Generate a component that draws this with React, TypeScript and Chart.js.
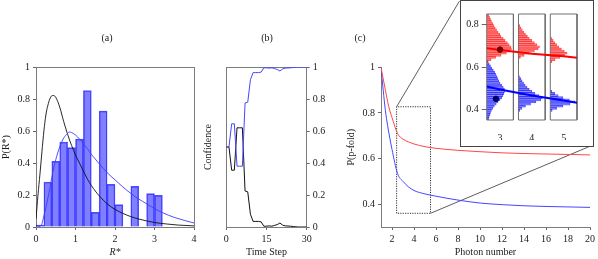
import React, { useEffect, useRef } from "react";
import { Chart, registerables } from "chart.js";

Chart.register(...registerables);

const FONT = "'Liberation Serif', 'DejaVu Serif', serif";
const TEXT = "#1a1a1a";
const FRAME = "#7c7c7c";
const TICKC = "#666666";

// ---------------- Panel (a) ----------------
const aBinCenters = [0.1, 0.3, 0.5, 0.7, 0.9, 1.1, 1.3, 1.5, 1.7, 1.9, 2.1, 2.3, 2.5, 2.7, 2.9, 3.1];
const aBinHeights = [0.012, 0.28, 0.41, 0.53, 0.496, 0.55, 0.852, 0.092, 0.725, 0.267, 0.14, 0, 0.254, 0, 0.209, 0.198];
const aBlackX = [0, 0.05, 0.1, 0.15, 0.2, 0.25, 0.3, 0.35, 0.4, 0.45, 0.5, 0.6, 0.7, 0.8, 0.9, 1.0, 1.1, 1.2, 1.3, 1.4, 1.5, 1.6, 1.8, 2.0, 2.2, 2.4, 2.6, 2.8, 3.0, 3.3, 3.6, 4.0];
const aBlackY = [0.05, 0.2, 0.33, 0.47, 0.6, 0.7, 0.76, 0.8, 0.82, 0.822, 0.81, 0.75, 0.66, 0.58, 0.51, 0.45, 0.4, 0.35, 0.3, 0.26, 0.225, 0.195, 0.145, 0.11, 0.085, 0.065, 0.05, 0.038, 0.028, 0.019, 0.012, 0.007];
const aBlueX = [0, 0.1, 0.15, 0.2, 0.25, 0.3, 0.35, 0.4, 0.5, 0.6, 0.7, 0.8, 0.85, 0.9, 1.0, 1.1, 1.2, 1.3, 1.4, 1.5, 1.6, 1.8, 2.0, 2.2, 2.4, 2.6, 2.8, 3.0, 3.2, 3.5, 4.0];
const aBlueY = [0, 0.003, 0.02, 0.07, 0.12, 0.18, 0.24, 0.31, 0.42, 0.5, 0.555, 0.585, 0.594, 0.59, 0.575, 0.55, 0.52, 0.49, 0.455, 0.425, 0.395, 0.34, 0.295, 0.25, 0.21, 0.175, 0.145, 0.115, 0.09, 0.06, 0.025];
const aXTicks = [0, 1, 2, 3, 4];
const aYTicks = [0, 0.2, 0.4, 0.6, 0.8, 1];

// ---------------- Panel (b) ----------------
const bSteps = [0, 1, 2, 3, 4, 5, 6, 7, 8, 9, 10, 11, 12, 13, 14, 15, 16, 17, 18, 19, 20, 21, 22, 23, 24, 25, 26, 27, 28, 29, 30];
const bBlue = [0.5, 0.5, 0.645, 0.645, 0.38, 0.38, 0.38, 0.775, 0.78, 0.92, 0.965, 0.965, 0.965, 0.968, 0.995, 0.995, 0.993, 0.995, 0.99, 0.985, 0.975, 0.988, 0.993, 0.994, 0.995, 0.997, 0.999, 1, 1, 1, 1];
const bBlack = [0.5, 0.5, 0.355, 0.355, 0.62, 0.62, 0.62, 0.225, 0.22, 0.08, 0.035, 0.035, 0.035, 0.032, 0.005, 0.005, 0.007, 0.005, 0.01, 0.015, 0.025, 0.012, 0.007, 0.006, 0.005, 0.003, 0.001, 0, 0, 0, 0];
const bXTicks = [0, 15, 30];
const bYTicks = [0, 0.2, 0.4, 0.6, 0.8, 1];

// ---------------- Panel (c) ----------------
const cPhotons = [1, 1.2, 1.4, 1.6, 1.8, 2, 2.5, 3, 3.5, 4, 5, 6, 7, 8, 10, 12, 14, 16, 18, 20];
const cRed = [1, 0.95, 0.9, 0.85, 0.81, 0.78, 0.71, 0.685, 0.673, 0.664, 0.652, 0.645, 0.64, 0.636, 0.63, 0.625, 0.622, 0.62, 0.618, 0.616];
const cBlue = [1, 0.9, 0.81, 0.745, 0.69, 0.64, 0.535, 0.5, 0.476, 0.46, 0.445, 0.435, 0.426, 0.418, 0.405, 0.398, 0.393, 0.39, 0.388, 0.386];
const cXTicks = [2, 4, 6, 8, 10, 12, 14, 16, 18, 20];
const cYTicks = [0.4, 0.6, 0.8, 1];
const cZoomBoxX = [2.42, 5.5];
const cZoomBoxY = [0.36, 0.827];
const cConnTopX = [2.42, 8.13];
const cConnTopY = [0.827, 1.29];
const cConnBottomX = [5.5, 20];
const cConnBottomY = [0.36, 0.654];

// ---------------- Inset ----------------
const insetPhotons = [3, 4, 5];
const insetHalfWidth = 0.42;
const insetYRange = [0.35, 0.85];
const insetYTicks = [0.4, 0.6, 0.8];
const red3Bins = [0.845, 0.835, 0.825, 0.815, 0.805, 0.795, 0.785, 0.775, 0.765, 0.755, 0.745, 0.735, 0.725, 0.715, 0.705, 0.695, 0.685, 0.675, 0.665, 0.655, 0.645, 0.635, 0.625];
const red3Len = [0.06, 0.09, 0.12, 0.15, 0.19, 0.23, 0.27, 0.31, 0.36, 0.41, 0.44, 0.52, 0.58, 0.65, 0.71, 0.76, 0.78, 0.74, 0.62, 0.45, 0.28, 0.14, 0.05];
const blue3Bins = [0.625, 0.615, 0.605, 0.595, 0.585, 0.575, 0.565, 0.555, 0.545, 0.535, 0.525, 0.515, 0.505, 0.495, 0.485, 0.475, 0.465, 0.455, 0.445, 0.435, 0.425, 0.415, 0.405, 0.395, 0.385, 0.375, 0.365, 0.355];
const blue3Len = [0.04, 0.08, 0.12, 0.16, 0.21, 0.25, 0.29, 0.32, 0.35, 0.38, 0.42, 0.47, 0.52, 0.56, 0.57, 0.54, 0.51, 0.47, 0.42, 0.36, 0.3, 0.24, 0.19, 0.15, 0.12, 0.1, 0.08, 0.06];
const red4Bins = [0.795, 0.785, 0.775, 0.765, 0.755, 0.745, 0.735, 0.725, 0.715, 0.705, 0.695, 0.685, 0.675, 0.665, 0.655, 0.645];
const red4Len = [0.04, 0.08, 0.12, 0.17, 0.22, 0.28, 0.34, 0.42, 0.5, 0.58, 0.66, 0.62, 0.5, 0.34, 0.18, 0.06];
const blue4Bins = [0.555, 0.545, 0.535, 0.525, 0.515, 0.505, 0.495, 0.485, 0.475, 0.465, 0.455, 0.445, 0.435, 0.425, 0.415, 0.405, 0.395];
const blue4Len = [0.03, 0.07, 0.11, 0.16, 0.21, 0.27, 0.34, 0.42, 0.52, 0.64, 0.75, 0.7, 0.55, 0.38, 0.22, 0.11, 0.04];
const red5Bins = [0.735, 0.725, 0.715, 0.705, 0.695, 0.685, 0.675, 0.665, 0.655, 0.645, 0.635, 0.625];
const red5Len = [0.04, 0.09, 0.14, 0.2, 0.27, 0.35, 0.44, 0.53, 0.45, 0.3, 0.15, 0.05];
const blue5Bins = [0.485, 0.475, 0.465, 0.455, 0.445, 0.435, 0.425, 0.415, 0.405, 0.395];
const blue5Len = [0.05, 0.14, 0.25, 0.4, 0.6, 0.78, 0.62, 0.4, 0.2, 0.06];
const insetFitX = [2.58, 3, 4, 5, 5.42];
const insetRedFit = [0.689, 0.68, 0.663, 0.651, 0.644];
const insetBlueFit = [0.508, 0.494, 0.466, 0.442, 0.431];
const insetRedDotX = [3.0];
const insetRedDotY = [0.682];
const insetBlueDotX = [2.87];
const insetBlueDotY = [0.45];

// ---------------- helpers ----------------
const pts = (xs: number[], ys: number[]) => xs.map((x, i) => ({ x, y: ys[i] }));
const setTicks = (vals: number[]) => (s: any) => {
  s.ticks = vals.map((v) => ({ value: v }));
};
const fixW = (w: number) => (s: any) => {
  s.width = w;
};
const fixH = (h: number) => (s: any) => {
  s.height = h;
};
const font = (size = 10, style = "normal") => ({ family: FONT, size, style });
const fmt = (v: any) => String(Math.round(Number(v) * 100) / 100);

function axis(o: any) {
  const vertical = o.position === "left" || o.position === "right";
  const showTicks = o.showTicks !== false;
  return {
    type: "linear",
    min: o.min,
    max: o.max,
    position: o.position,
    offset: false,
    afterBuildTicks: o.ticks ? setTicks(o.ticks) : undefined,
    afterFit: o.size == null ? undefined : vertical ? fixW(o.size) : fixH(o.size),
    grid: {
      display: showTicks,
      offset: false,
      drawOnChartArea: false,
      drawTicks: showTicks,
      tickLength: o.tickLength ?? 3,
      color: TICKC,
      lineWidth: 1,
    },
    border: { display: o.border !== false, color: FRAME, width: 1 },
    ticks: {
      display: o.labels !== false,
      font: font(10),
      color: TEXT,
      padding: o.pad ?? 3,
      autoSkip: false,
      maxRotation: 0,
      callback: fmt,
    },
    title: o.title
      ? { display: true, text: o.title, font: font(10, o.titleStyle || "normal"), color: TEXT, padding: o.titlePad ?? 0 }
      : { display: false },
  };
}

function frame(position: string) {
  const vertical = position === "left" || position === "right";
  return {
    type: "linear",
    position,
    display: true,
    ticks: { display: false },
    grid: { display: false, drawTicks: false },
    border: { display: true, color: FRAME, width: 1 },
    afterFit: vertical ? fixW(0) : fixH(0),
  };
}

function common(padding: any, scales: any) {
  return {
    responsive: false,
    animation: false,
    devicePixelRatio: 1,
    events: [],
    layout: { autoPadding: false, padding },
    plugins: { legend: { display: false }, tooltip: { enabled: false }, title: { display: false } },
    scales,
  };
}

const lineDs = (data: any[], color: string, width: number, order: number, extra: any = {}) => ({
  type: "line",
  data,
  borderColor: color,
  backgroundColor: color,
  borderWidth: width,
  pointRadius: 0,
  fill: false,
  order,
  ...extra,
});

// ---------------- chart configs ----------------
const makeA = () => ({
  type: "bar",
  data: {
    datasets: [
      lineDs(pts(aBlueX, aBlueY), "rgb(60,60,255)", 0.9, 0, { cubicInterpolationMode: "monotone" }),
      lineDs(pts(aBlackX, aBlackY), "#111111", 0.9, 1, { cubicInterpolationMode: "monotone" }),
      {
        type: "bar",
        data: pts(aBinCenters, aBinHeights),
        backgroundColor: "rgba(0,0,255,0.5)",
        borderColor: "rgba(0,0,255,0.65)",
        borderWidth: 0.8,
        barPercentage: 1,
        categoryPercentage: 1,
        order: 2,
      },
    ],
  },
  options: common(
    { left: 0, top: 67, right: 404, bottom: 0 },
    {
      x: axis({ min: 0, max: 4, position: "bottom", ticks: aXTicks, size: 32, title: "R*", titleStyle: "italic", titlePad: { top: 0, bottom: 1 } }),
      y: axis({ min: 0, max: 1, position: "left", ticks: aYTicks, size: 36, title: "P(R*)" }),
      x2: frame("top"),
      y2: frame("right"),
    }
  ),
});

const makeB = () => ({
  type: "line",
  data: {
    datasets: [
      lineDs(pts(bSteps, bBlue), "rgb(70,70,255)", 1, 0),
      lineDs(pts(bSteps, bBlack), "#111111", 1, 1),
    ],
  },
  options: common(
    { left: 202, top: 67, right: 261.3, bottom: 0 },
    {
      x: axis({ min: 0, max: 30, position: "bottom", ticks: bXTicks, size: 32, title: "Time Step", titlePad: { top: 0, bottom: 1 } }),
      y: axis({ min: 0, max: 1, position: "left", showTicks: false, labels: false, size: 24.3, title: "Confidence" }),
      yR: axis({ min: 0, max: 1, position: "right", ticks: bYTicks, size: 30 }),
      x2: frame("top"),
    }
  ),
});

const makeC = () => ({
  type: "line",
  data: {
    datasets: [
      lineDs(pts(cPhotons, cRed), "rgb(255,70,70)", 1, 0, { cubicInterpolationMode: "monotone" }),
      lineDs(pts(cPhotons, cBlue), "rgb(70,70,255)", 1, 1, { cubicInterpolationMode: "monotone" }),
      lineDs(
        [
          { x: cZoomBoxX[0], y: cZoomBoxY[0] },
          { x: cZoomBoxX[0], y: cZoomBoxY[1] },
          { x: cZoomBoxX[1], y: cZoomBoxY[1] },
          { x: cZoomBoxX[1], y: cZoomBoxY[0] },
          { x: cZoomBoxX[0], y: cZoomBoxY[0] },
        ],
        "#333333",
        1,
        2,
        { borderDash: [1.2, 1.2] }
      ),
      lineDs(pts(cConnTopX, cConnTopY), "#333333", 0.8, 3, { clip: false }),
      lineDs(pts(cConnBottomX, cConnBottomY), "#333333", 0.8, 3, { clip: false }),
    ],
  },
  options: common(
    { left: 345, top: 67.3, right: 4.5, bottom: 0 },
    {
      x: axis({ min: 1, max: 20, position: "bottom", ticks: cXTicks, size: 32, title: "Photon number", titlePad: { top: 0, bottom: 1 } }),
      y: axis({ min: 0.3, max: 1, position: "left", ticks: cYTicks, size: 36, title: "P(p-fold)" }),
    }
  ),
});

const histDs = (n: number, bins: number[], lens: number[], fill: string, stroke: string) => ({
  type: "bar",
  indexAxis: "y",
  grouped: false,
  data: bins.map((b, i) => ({ y: b, x: [n - insetHalfWidth, n - insetHalfWidth + lens[i]] })),
  backgroundColor: fill,
  borderColor: stroke,
  borderWidth: 0.45,
  borderSkipped: "start",
  barPercentage: 1,
  categoryPercentage: 1,
  order: 3,
});

const frameDs = (n: number) =>
  lineDs(
    [
      { x: n - insetHalfWidth, y: insetYRange[0] },
      { x: n - insetHalfWidth, y: insetYRange[1] },
      { x: n + insetHalfWidth, y: insetYRange[1] },
      { x: n + insetHalfWidth, y: insetYRange[0] },
      { x: n - insetHalfWidth, y: insetYRange[0] },
    ],
    "#707070",
    1,
    2,
    { clip: false }
  );

const RF = "rgba(255,40,40,0.42)";
const RS = "rgba(255,0,0,0.6)";
const BF = "rgba(40,40,255,0.42)";
const BS = "rgba(0,0,255,0.6)";

const makeInset = () => ({
  type: "bar",
  data: {
    datasets: [
      {
        type: "scatter",
        data: pts(insetRedDotX, insetRedDotY),
        pointRadius: 2.8,
        pointBackgroundColor: "#7a0000",
        pointBorderColor: "#7a0000",
        showLine: false,
        order: 0,
      },
      {
        type: "scatter",
        data: pts(insetBlueDotX, insetBlueDotY),
        pointRadius: 2.8,
        pointBackgroundColor: "#00006a",
        pointBorderColor: "#00006a",
        showLine: false,
        order: 0,
      },
      lineDs(pts(insetFitX, insetRedFit), "rgb(255,0,0)", 2, 1),
      lineDs(pts(insetFitX, insetBlueFit), "rgb(0,0,255)", 2, 1),
      ...insetPhotons.map((n) => frameDs(n)),
      histDs(insetPhotons[0], red3Bins, red3Len, RF, RS),
      histDs(insetPhotons[0], blue3Bins, blue3Len, BF, BS),
      histDs(insetPhotons[1], red4Bins, red4Len, RF, RS),
      histDs(insetPhotons[1], blue4Bins, blue4Len, BF, BS),
      histDs(insetPhotons[2], red5Bins, red5Len, RF, RS),
      histDs(insetPhotons[2], blue5Bins, blue5Len, BF, BS),
    ],
  },
  options: common(
    { left: 456.7, top: 14, right: 21, bottom: 119 },
    {
      x: axis({
        min: insetPhotons[0] - insetHalfWidth,
        max: insetPhotons[2] + insetHalfWidth,
        position: "bottom",
        ticks: insetPhotons,
        showTicks: false,
        border: false,
        pad: 12,
        size: 20,
      }),
      y: axis({
        min: insetYRange[0],
        max: insetYRange[1],
        position: "left",
        ticks: insetYTicks,
        tickLength: 5,
        border: false,
        pad: 3,
        size: 30,
      }),
    }
  ),
});

function ChartCanvas({ make }: { make: () => any }) {
  const ref = useRef<HTMLCanvasElement | null>(null);
  useEffect(() => {
    if (!ref.current) return;
    const chart = new Chart(ref.current, make());
    return () => chart.destroy();
  }, []);
  return (
    <canvas
      ref={ref}
      width={598}
      height={259}
      style={{ position: "absolute", left: 0, top: 0, width: 598, height: 259 }}
    />
  );
}

const panelLabels = [
  { text: "(a)", x: 107, y: 38 },
  { text: "(b)", x: 267, y: 38 },
  { text: "(c)", x: 360, y: 38 },
];

export default function App() {
  return (
    <div
      style={{
        position: "absolute",
        left: 0,
        top: 0,
        width: 598,
        height: 259,
        background: "#ffffff",
        overflow: "hidden",
        fontFamily: FONT,
      }}
    >
      <ChartCanvas make={makeA} />
      <ChartCanvas make={makeB} />
      <ChartCanvas make={makeC} />
      <div
        style={{
          position: "absolute",
          left: 460,
          top: 0,
          width: 134,
          height: 147,
          border: "1px solid #444",
          boxSizing: "border-box",
          background: "#ffffff",
        }}
      />
      <ChartCanvas make={makeInset} />
      {panelLabels.map((l) => (
        <div
          key={l.text}
          style={{
            position: "absolute",
            left: l.x,
            top: l.y,
            transform: "translate(-50%, -50%)",
            fontSize: 10,
            color: TEXT,
            whiteSpace: "nowrap",
            lineHeight: "12px",
          }}
        >
          {l.text}
        </div>
      ))}
    </div>
  );
}
